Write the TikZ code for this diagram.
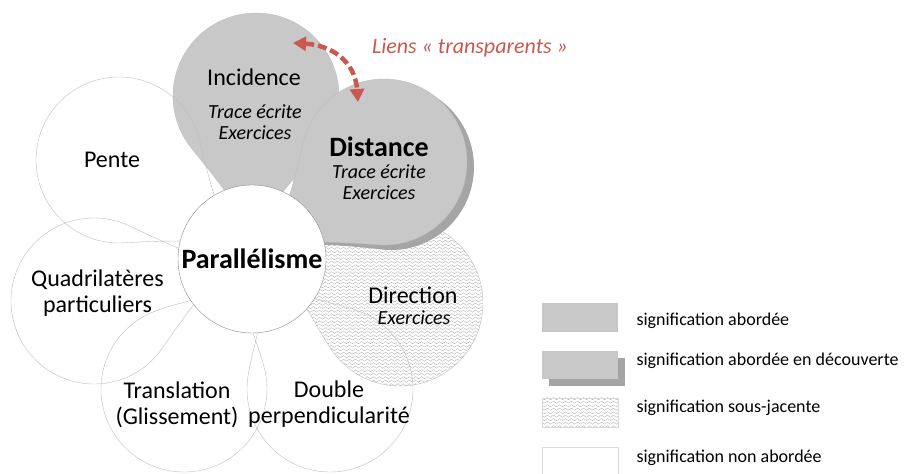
\documentclass[tikz,border=0pt]{standalone}
\usepackage{fontspec}
\setmainfont{Carlito}
\usetikzlibrary{calc,patterns,arrows.meta}

\definecolor{petalgray}{RGB}{200,200,200}
\definecolor{edgegray}{RGB}{190,190,190}
\definecolor{shadowgray}{RGB}{165,165,165}
\definecolor{linkred}{RGB}{203,88,80}

\pgfdeclarepatternformonly{ripples}{\pgfpoint{-1pt}{-1pt}}{\pgfpoint{7pt}{5pt}}{\pgfpoint{6pt}{3.5pt}}{
  \pgfsetlinewidth{0.35pt}
  \pgfpathmoveto{\pgfpoint{0pt}{1.8pt}}
  \pgfpathcurveto{\pgfpoint{1.5pt}{3.2pt}}{\pgfpoint{1.5pt}{3.2pt}}{\pgfpoint{3pt}{1.8pt}}
  \pgfpathcurveto{\pgfpoint{4.5pt}{0.4pt}}{\pgfpoint{4.5pt}{0.4pt}}{\pgfpoint{6pt}{1.8pt}}
  \pgfusepath{stroke}
}

\def\petalr{83}
\def\petal[#1](#2)(#3){\path[#1] let \p1=($(#3)-(#2)$), \n1={atan2(\y1,\x1)}, \n2={veclen(\x1,\y1)-20} in ($(#2)+(\n1+50:\petalr)$) arc[start angle=\n1+50, end angle=\n1+310, radius=\petalr] .. controls +(\n1+40:30) and ($(#2)+(\n1:\n2)+(\n1+200:30)$) .. ($(#2)+(\n1:\n2)$) .. controls +(\n1+160:30) and ($(#2)+(\n1+50:\petalr)+(\n1-40:30)$) .. cycle;}

\tikzset{
  title/.style={font=\fontsize{24}{26}\selectfont, align=center},
  bigtitle/.style={font=\fontsize{28}{30}\selectfont\bfseries, align=center},
  note/.style={font=\fontsize{20}{21}\selectfont\itshape, align=center},
  legendtext/.style={font=\fontsize{18}{20}\selectfont, anchor=west},
  link/.style={draw=linkred, line width=4.5pt, dash pattern=on 9pt off 4pt, {Triangle[length=13pt,width=14pt]}-{Triangle[length=13pt,width=14pt]}}
}

\begin{document}
\begin{tikzpicture}[x=1pt, y=1pt]
			\useasboundingbox (0,0) rectangle (906,474);
			\coordinate (C) at (252,215);
			
			%%%%% PETALS %%%%%
			\petal[fill=white](119,314)(C)
			\petal[fill=white](94,173)(C)
			\petal[fill=white](184,85)(C)
			\petal[fill=white](330,85)(C)
			\petal[fill=white](400,171)(C)
			\petal[pattern=ripples, pattern color=black!30](400,171)(C)
			\petal[fill=petalgray](256,378)(C)
			
			\petal[draw=edgegray](119,314)(C)
			\petal[draw=edgegray](94,173)(C)
			\petal[draw=edgegray](184,85)(C)
			\petal[draw=edgegray](330,85)(C)
			\petal[draw=edgegray](400,171)(C)
			\petal[draw=edgegray](256,378)(C)
			
			\petal[fill=shadowgray](391,307)(C)
			\petal[fill=petalgray, draw=edgegray](384,312)(C)
			
			\node[circle, draw=black!45, fill=white, minimum size=148pt, inner sep=0pt, bigtitle] (par) at (C) {Parallélisme};
			
			%%%%% LABELS %%%%%
			\node[title] (incidence) at (254,397) {Incidence};
			\node[note] (incidence-note) at (255,352) {Trace écrite\\Exercices};
			\node[bigtitle] (distance) at (379,327) {Distance};
			\node[note] (distance-note) at (379,291.5) {Trace écrite\\Exercices};
			\node[title] (pente) at (112,314) {Pente};
			\node[title] (quadri) at (97.5,181) {Quadrilatères\\particuliers};
			\node[title] (direction) at (413,179) {Direction};
			\node[note] (direction-note) at (414,156) {Exercices};
			\node[title] (translation) at (177,69.5) {Translation\\(Glissement)};
			\node[title] (double) at (329,69.5) {Double\\perpendicularité};
			
			%%%%% LINK %%%%%
			\coordinate (linkA) at (293,431);
			\coordinate (linkB) at (358,372);
			\draw[link] (linkA) .. controls (330,429) and (355,414) .. (linkB);
			\node[note, text=linkred, font=\fontsize{22}{24}\selectfont\itshape] (links) at (470,426) {Liens « transparents »};
			
			%%%%% LEGEND %%%%%
			\fill[petalgray] (542,142) rectangle (618,171);
			\fill[shadowgray] (549,88) rectangle (625,116);
			\fill[petalgray] (542,95) rectangle (618,123);
			\draw[draw=black!15, pattern=ripples, pattern color=black!30] (542,47) rectangle (618,76);
			\draw[draw=black!15, fill=white] (542,-1) rectangle (618,27);
			
			\node[legendtext] (leg1) at (633,153) {signification abordée};
			\node[legendtext] (leg2) at (633,113) {signification abordée en découverte};
			\node[legendtext] (leg3) at (633,66) {signification sous-jacente};
			\node[legendtext] (leg4) at (633,16) {signification non abordée};
		\end{tikzpicture}
\end{document}
